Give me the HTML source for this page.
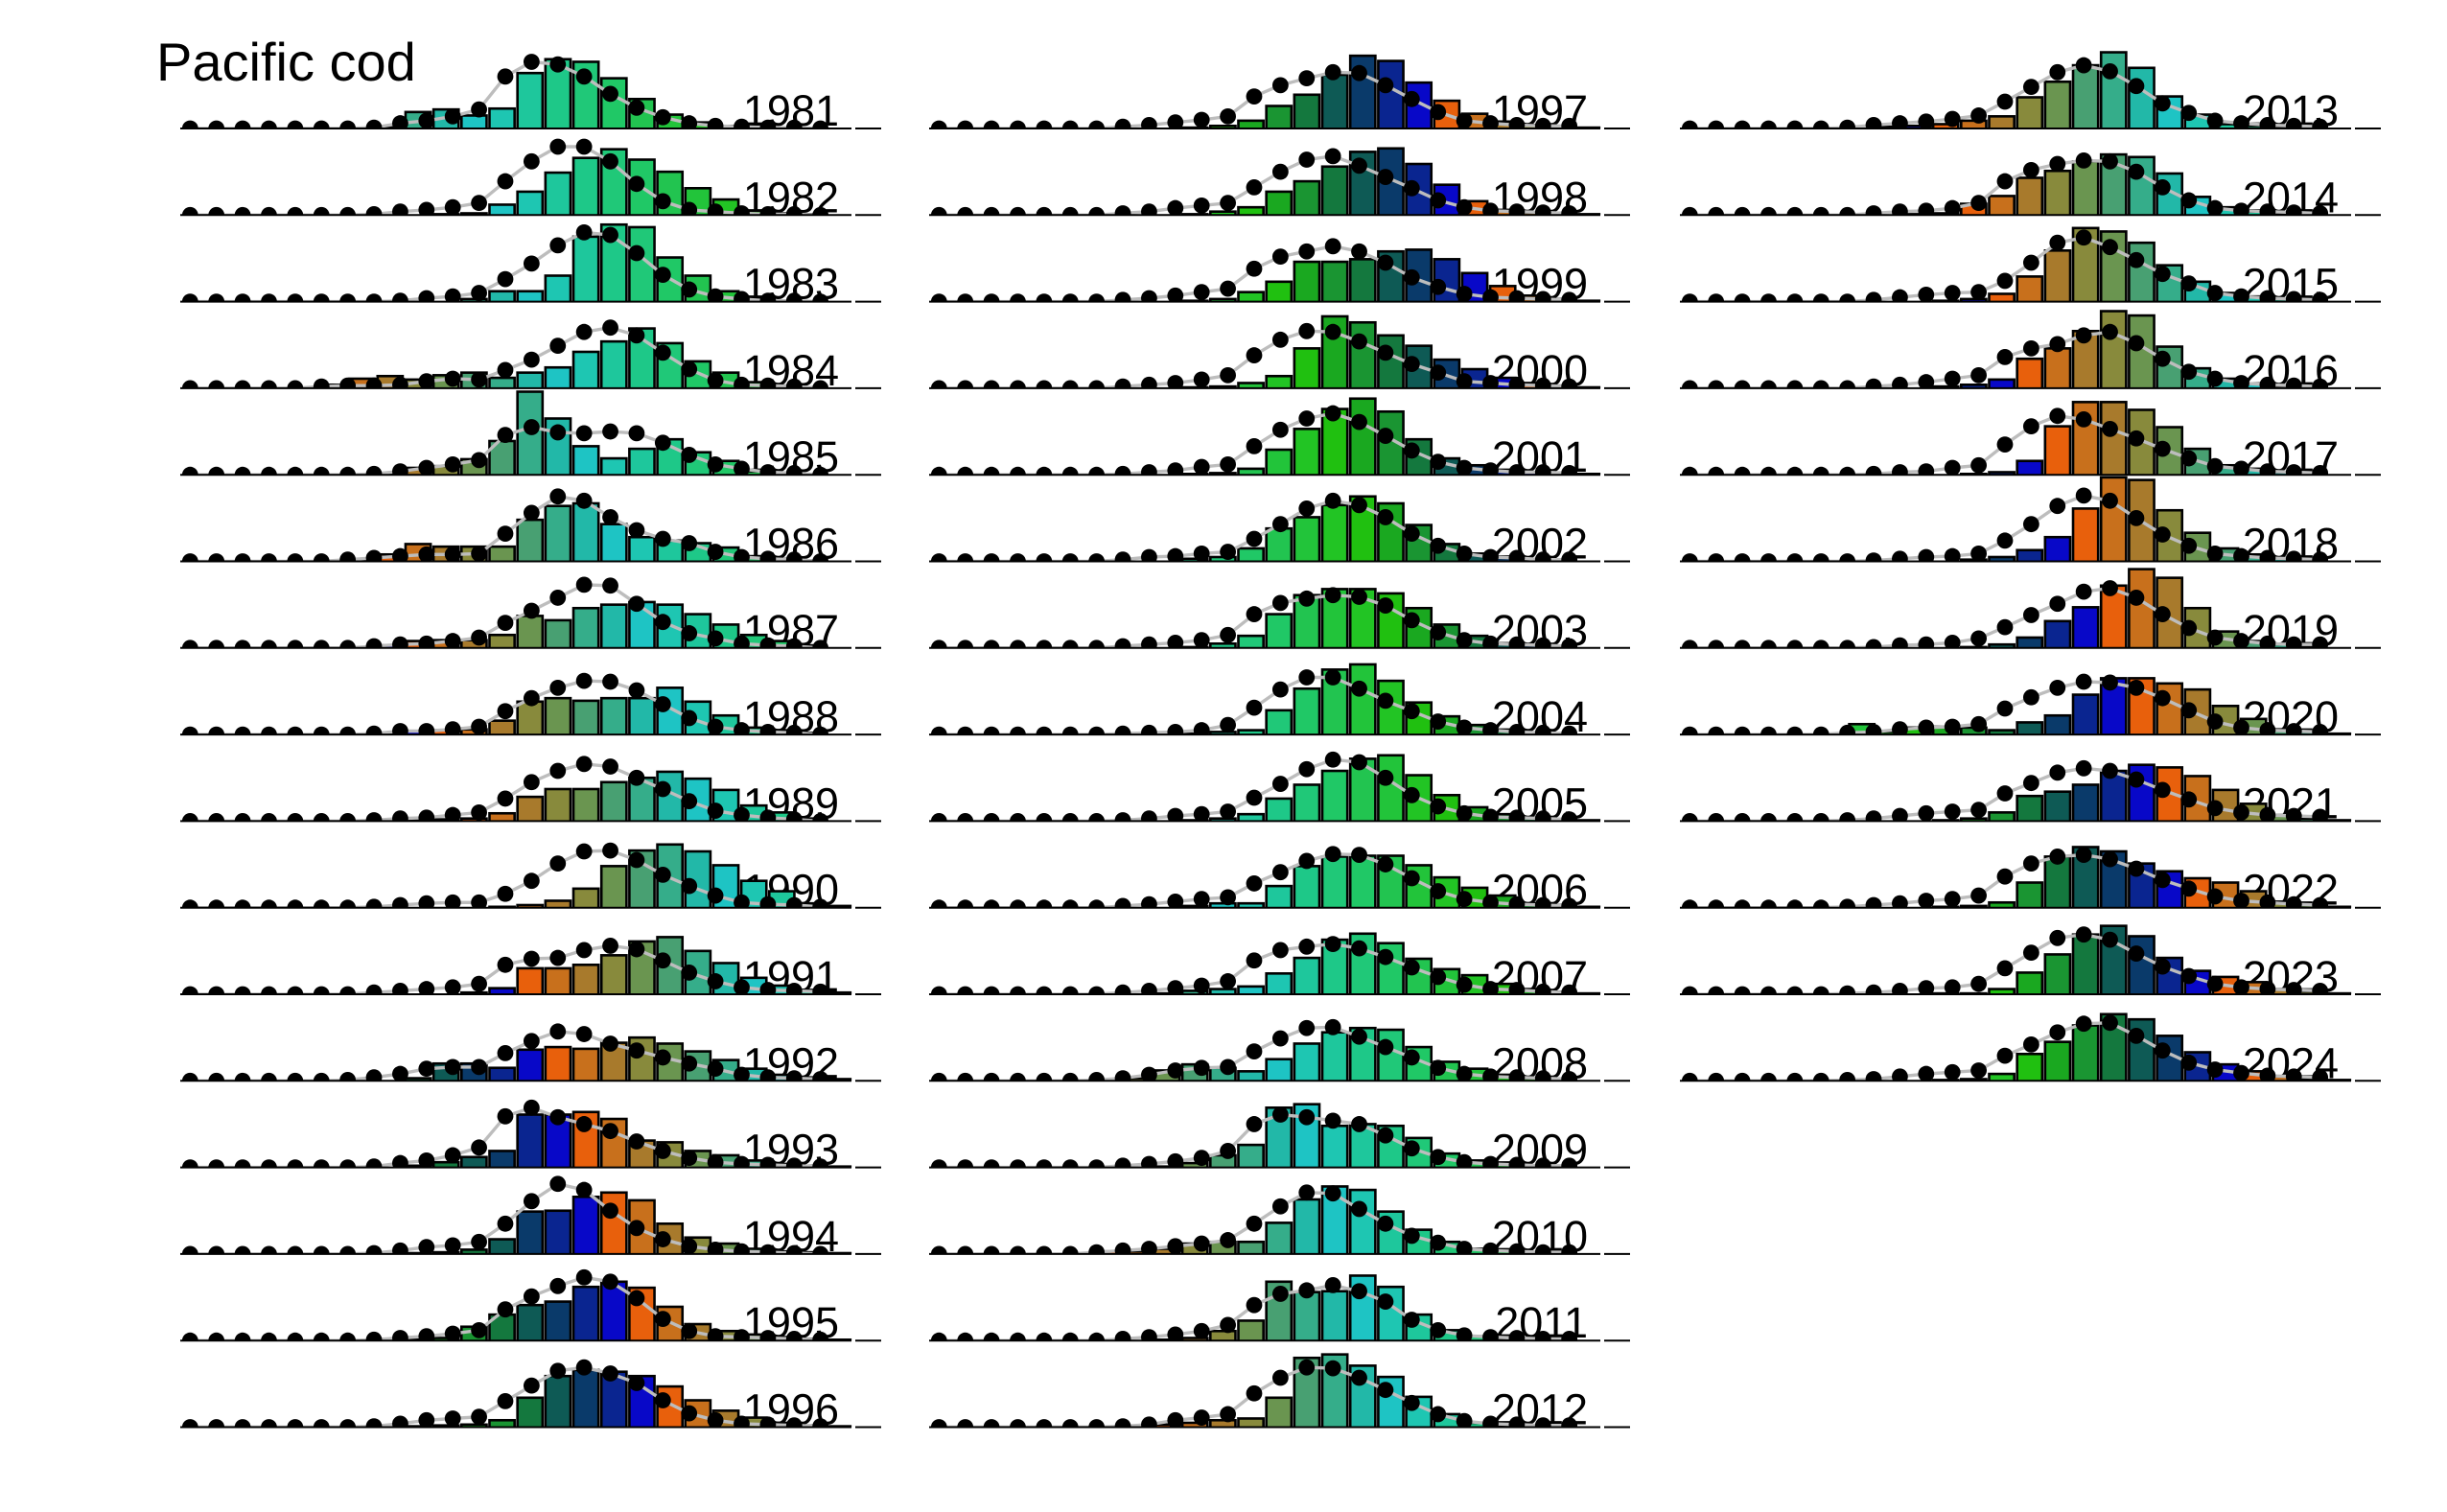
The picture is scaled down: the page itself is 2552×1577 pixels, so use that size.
<!DOCTYPE html>
<html><head><meta charset="utf-8"><style>
html,body{margin:0;padding:0;background:#fff;}
svg{display:block;}
text{font-family:"Liberation Sans",Arial,sans-serif;fill:#000;}
</style></head>
<body>
<svg id="chart" width="2552" height="1577" viewBox="0 0 2552 1577" xmlns="http://www.w3.org/2000/svg">
<rect width="2552" height="1577" fill="#fff"/>
<text x="163" y="84" font-size="56">Pacific cod</text>
<g id="panels"></g>
</svg>
<script>
const years = [1981,1982,1983,1984,1985,1986,1987,1988,1989,1990,1991,1992,1993,1994,1995,1996,1997,1998,1999,2000,2001,2002,2003,2004,2005,2006,2007,2008,2009,2010,2011,2012,2013,2014,2015,2016,2017,2018,2019,2020,2021,2022,2023,2024];
const observedBars = [
[0,0,0,0,0,0,0,2,19,22,15,23,64,80,77,58,34,16,7,3,1,0,0,0],
[0,0,0,0,0,0,0,0,0,1,2,12,27,49,66,76,64,50,31,18,5,2,1,0],
[0,0,0,0,0,0,0,0,0,0,3,12,12,30,75,89,86,51,30,12,4,1,0,0],
[0,0,0,0,0,4,11,14,10,15,18,12,18,24,42,54,69,52,31,18,7,3,1,0],
[0,0,0,0,0,0,0,1,8,10,18,39,96,65,33,19,30,41,26,16,4,2,1,0],
[0,0,0,0,0,0,1,8,20,17,17,17,48,64,67,43,28,24,21,16,6,3,1,0],
[0,0,0,0,0,0,0,3,8,9,9,15,37,32,46,50,53,50,39,27,15,8,3,0],
[0,0,0,0,0,0,0,2,4,5,6,16,38,42,39,42,42,54,38,22,8,5,2,0],
[0,0,0,0,0,0,0,0,1,2,3,9,28,37,37,45,50,57,49,36,18,10,3,0],
[0,0,0,0,0,0,0,0,0,0,0,1,3,8,22,48,66,73,65,49,31,19,5,2],
[0,0,0,0,0,0,0,0,0,0,2,7,30,30,34,45,61,66,50,36,19,10,5,2],
[0,0,0,0,0,0,0,0,3,20,20,15,36,39,37,44,50,43,34,24,14,7,4,2],
[0,0,0,0,0,0,0,0,2,6,12,19,61,61,64,56,31,29,19,14,8,4,2,1],
[0,0,0,0,0,0,0,0,1,2,5,17,49,50,66,71,62,35,19,12,6,3,2,1],
[0,0,0,0,0,0,0,0,1,3,16,30,41,45,62,68,61,39,19,11,7,4,2,1],
[0,0,0,0,0,0,0,0,1,2,3,8,34,59,66,64,59,47,31,19,11,5,2,1],
[0,0,0,0,0,0,0,0,0,1,3,9,26,39,62,84,78,53,32,17,8,4,2,1],
[0,0,0,0,0,0,0,0,0,1,4,9,27,39,56,73,77,59,35,16,6,3,2,1],
[0,0,0,0,0,0,0,0,0,1,3,11,23,46,46,49,58,60,49,33,18,7,3,1],
[0,0,0,0,0,0,0,0,0,1,2,6,14,46,83,76,61,49,33,22,12,6,3,1],
[0,0,0,0,0,0,0,0,0,1,2,7,29,53,76,88,73,41,19,11,5,3,2,1],
[0,0,0,0,0,0,0,0,0,3,5,15,38,51,65,75,67,42,20,9,4,2,1,0],
[0,0,0,0,0,0,0,0,0,1,5,14,39,61,68,68,63,46,27,14,5,3,1,0],
[0,0,0,0,0,0,0,0,0,1,3,5,28,53,75,81,62,37,21,11,4,2,1,0],
[0,0,0,0,0,0,0,0,0,1,3,8,26,42,58,72,76,53,30,16,8,4,2,1],
[0,0,0,0,0,0,0,0,0,2,5,5,25,48,59,60,60,49,35,23,14,5,3,1],
[0,0,0,0,0,0,0,0,1,4,6,9,24,42,63,70,59,41,29,22,12,6,3,1],
[0,0,0,0,0,0,0,3,12,19,15,11,25,43,56,61,59,39,22,14,7,3,1,0],
[0,0,0,0,0,0,0,0,1,5,14,26,69,73,48,50,48,34,16,8,4,2,1,0],
[0,0,0,0,0,0,3,3,6,12,14,14,36,63,78,74,49,28,14,6,4,2,1,0],
[0,0,0,0,0,0,0,0,1,3,11,23,68,56,57,75,62,30,12,5,2,1,0,0],
[0,0,0,0,0,0,0,0,3,5,8,10,34,80,84,71,58,35,15,5,2,1,0,0],
[0,0,0,0,0,0,0,2,3,5,9,14,36,54,73,88,70,37,16,5,3,1,0,0],
[0,0,0,0,0,0,0,0,1,2,13,22,43,51,62,70,67,48,21,9,4,2,1,0],
[0,0,0,0,0,0,0,0,0,1,3,9,29,59,85,81,68,42,23,10,6,3,1,0],
[0,0,0,0,0,0,0,0,0,2,4,10,34,46,66,89,84,48,23,11,5,2,1,0],
[0,0,0,0,0,0,0,0,0,0,1,3,16,56,84,84,75,55,30,11,7,3,1,0],
[0,0,0,0,0,0,0,0,0,0,2,5,13,28,61,97,94,59,33,15,8,4,2,0],
[0,0,0,0,0,0,0,0,0,0,1,4,12,31,47,72,91,81,46,19,8,4,2,0],
[0,0,0,0,0,0,12,3,8,9,8,5,14,22,46,65,65,59,52,33,18,6,3,1],
[0,0,0,0,0,0,0,0,0,1,3,10,29,34,42,58,65,62,52,36,20,7,3,1],
[0,0,0,0,0,0,0,0,0,1,2,6,29,59,70,65,51,42,34,29,19,7,3,1],
[0,0,0,0,0,0,0,0,0,1,1,6,25,46,69,79,67,42,27,20,14,6,3,1],
[0,0,0,0,0,0,0,0,0,1,2,8,31,45,64,77,71,52,33,19,11,5,2,1]];
const predictedDots = [
[0,0,0,0,0,0,0,1,6,9,14,22,60,77,74,60,40,24,13,6,3,2,1,1,0],
[0,0,0,0,0,0,0,1,4,6,9,14,39,62,79,79,62,36,16,6,4,2,1,1,0],
[0,0,0,0,0,0,0,0,1,4,6,10,26,44,65,80,77,56,31,14,6,3,1,1,0],
[0,0,0,0,0,2,3,3,4,8,11,10,21,33,49,65,70,61,41,22,9,4,3,2,0],
[0,0,0,0,0,0,0,1,4,8,12,17,46,55,49,48,50,48,37,23,12,7,3,2,0],
[0,0,0,0,0,0,2,4,6,8,8,9,32,56,75,70,51,36,26,21,11,5,3,2,0],
[0,0,0,0,0,0,0,2,4,5,8,12,29,43,58,73,72,51,30,17,11,5,3,2,0],
[0,0,0,0,0,0,0,1,4,4,6,9,27,42,54,62,61,51,35,19,9,5,3,2,0],
[0,0,0,0,0,0,0,1,3,4,7,10,26,45,58,66,63,50,37,23,12,7,4,2,0],
[0,0,0,0,0,0,0,1,3,5,6,6,16,31,51,65,66,55,38,25,14,6,4,3,1],
[0,0,0,0,0,0,0,2,4,6,8,12,34,41,42,51,56,52,39,25,15,8,5,4,3],
[0,0,0,0,0,0,1,4,8,14,16,16,32,46,57,54,43,35,27,20,14,7,4,3,2],
[0,0,0,0,0,0,0,1,5,8,14,23,59,69,58,50,42,30,19,11,6,4,3,2,1],
[0,0,0,0,0,0,0,1,4,8,10,14,35,61,81,74,50,30,17,9,5,3,2,1,0],
[0,0,0,0,0,0,0,1,3,5,8,12,36,51,63,73,68,49,25,11,5,4,3,2,1],
[0,0,0,0,0,0,0,1,4,8,10,12,30,48,65,69,62,51,31,16,8,4,3,2,1],
[0,0,0,0,0,0,0,2,4,7,10,14,37,50,58,65,64,50,34,19,9,6,4,3,3],
[0,0,0,0,0,0,0,2,4,8,11,14,32,50,64,68,57,44,31,17,9,5,4,3,2],
[0,0,0,0,0,0,0,2,4,7,11,15,38,52,58,64,58,45,28,17,9,5,4,3,2],
[0,0,0,0,0,0,0,2,4,6,10,15,38,56,66,65,54,41,28,18,8,6,4,3,2],
[0,0,0,0,0,0,0,1,3,5,9,12,33,52,65,71,61,45,28,15,8,5,3,3,2],
[0,0,0,0,0,0,0,2,5,6,9,11,26,43,61,70,65,51,32,18,9,5,4,2,2],
[0,0,0,0,0,0,0,2,4,6,9,15,39,52,57,61,59,49,32,18,9,5,4,3,2],
[0,0,0,0,0,0,0,1,2,3,5,11,31,52,66,66,53,39,27,15,8,5,3,2,1],
[0,0,0,0,0,0,0,1,3,6,8,11,27,43,60,71,68,50,30,17,9,5,4,3,2],
[0,0,0,0,0,0,0,2,4,7,10,12,28,41,54,62,61,50,34,19,10,6,4,3,2],
[0,0,0,0,0,0,0,2,4,7,10,15,39,51,55,58,53,43,31,20,11,6,5,3,2],
[0,0,0,0,0,0,1,3,7,12,15,16,34,49,61,62,51,39,27,15,8,5,4,3,2],
[0,0,0,0,0,0,0,2,4,7,11,19,50,61,58,54,50,37,22,12,6,4,3,2,2],
[0,0,0,0,0,0,2,4,6,9,12,16,35,55,71,70,52,35,21,13,6,4,3,2,2],
[0,0,0,0,0,0,0,2,4,7,11,18,41,54,58,64,57,45,24,12,6,4,3,2,2],
[0,0,0,0,0,0,0,1,3,8,11,15,39,57,69,68,57,43,28,15,7,4,3,2,2],
[0,0,0,0,0,0,1,4,6,8,11,15,31,48,65,73,66,49,29,18,9,6,4,3,2],
[0,0,0,0,0,0,0,2,4,5,8,14,39,52,59,63,62,50,32,17,8,5,4,3,2],
[0,0,0,0,0,0,0,2,5,8,10,11,24,45,68,74,63,48,32,21,10,6,4,3,2],
[0,0,0,0,0,0,0,2,4,7,11,15,36,46,51,61,65,52,34,19,11,6,4,3,2],
[0,0,0,0,0,0,0,1,3,4,8,11,35,56,68,64,53,42,30,19,10,7,4,3,2],
[0,0,0,0,0,0,0,1,3,5,6,9,24,43,64,76,70,50,31,18,9,6,4,3,2],
[0,0,0,0,0,0,0,1,3,4,6,11,24,38,51,65,69,58,39,23,12,8,5,4,4],
[0,0,0,0,0,0,2,3,6,8,9,12,30,43,54,61,60,54,42,28,15,8,5,4,3],
[0,0,0,0,0,0,1,3,6,9,11,13,32,44,56,61,58,48,36,25,15,10,7,6,5],
[0,0,0,0,0,0,1,3,5,8,10,14,36,51,59,61,56,45,32,22,13,8,6,4,3],
[0,0,0,0,0,0,1,2,4,7,8,12,30,48,65,69,63,47,32,21,12,8,6,5,4],
[0,0,0,0,0,0,1,2,5,8,10,12,29,42,56,66,67,52,35,21,13,9,6,5,4]];
const cohortPalette = ["#6a9550","#48a072","#35ad8a","#22b8a8","#1ec4c4","#1ec6b2","#1ec79c","#1ec888","#20c878","#20c866","#22c450","#22c43a","#22c424","#20c010","#1aa820","#1a9532","#14783e","#0e5a55","#0a3a6a","#0a2590","#0808c8","#e8600c","#c8701c","#a87a2c","#888a3c"];

const NS = "http://www.w3.org/2000/svg";
const colX = [188, 969, 1752];
const panelW = 731, binW = 29.18, rowTop = 134, rowH = 90.3, dotOff = 10.3, dotStep = 27.39;
function xBar(c, k){ return colX[c] + k*binW; }
function xDot(c, j){ return colX[c] + dotOff + j*dotStep; }
function yBase(r){ return rowTop + r*rowH; }
function yVal(r, v){ return yBase(r) - v/100*rowH; }
function mk(tag, parent){ const e = document.createElementNS(NS, tag); parent.appendChild(e); return e; }

const root = document.getElementById('panels');
const defs = mk('defs', root);

years.forEach((yr, i) => {
  const c = Math.floor(i/16), r = i%16, base = yBase(r);
  const cp = mk('clipPath', defs);
  cp.setAttribute('id', 'clip'+i);
  const cr = mk('rect', cp);
  cr.setAttribute('x', colX[c]-20); cr.setAttribute('y', 0);
  cr.setAttribute('width', panelW+40); cr.setAttribute('height', base);

  const g = mk('g', root);
  
  

  const lbl = mk('text', g);
  lbl.setAttribute('x', colX[c]+687); lbl.setAttribute('y', base-3);
  lbl.setAttribute('font-size', '45'); lbl.setAttribute('text-anchor', 'end');
  lbl.textContent = String(yr);
  
  

  const inner = mk('g', g);
  inner.setAttribute('clip-path', 'url(#clip'+i+')');

  observedBars[i].forEach((v, k) => {
    if (v <= 0.3) return;
    const rect = mk('rect', inner);
    const y = yVal(r, v);
    rect.setAttribute('x', xBar(c,k)+1.5); rect.setAttribute('y', y);
    rect.setAttribute('width', binW-3); rect.setAttribute('height', base-y+3);
    rect.setAttribute('fill', cohortPalette[(((k-yr)%25)+25)%25]);
    rect.setAttribute('stroke', '#000'); rect.setAttribute('stroke-width', '2.6');
    
    
  });

  const pl = mk('polyline', inner);
  pl.setAttribute('points', predictedDots[i].map((v,j) => xDot(c,j).toFixed(1)+','+yVal(r,v).toFixed(1)).join(' '));
  pl.setAttribute('fill', 'none'); pl.setAttribute('stroke', '#bdbdbd'); pl.setAttribute('stroke-width', '3.4');
  
  

  predictedDots[i].forEach((v, j) => {
    const ci = mk('circle', inner);
    ci.setAttribute('cx', xDot(c,j)); ci.setAttribute('cy', yVal(r,v));
    ci.setAttribute('r', '8.4'); ci.setAttribute('fill', '#000');
    
    
  });

  const ax = mk('path', g);
  ax.setAttribute('d', 'M'+colX[c]+' '+base+'H'+(colX[c]+700)+'M'+(colX[c]+704)+' '+base+'H'+(colX[c]+panelW));
  ax.setAttribute('stroke', '#000'); ax.setAttribute('stroke-width', '2');
  
  
});
</script>
</body></html>
